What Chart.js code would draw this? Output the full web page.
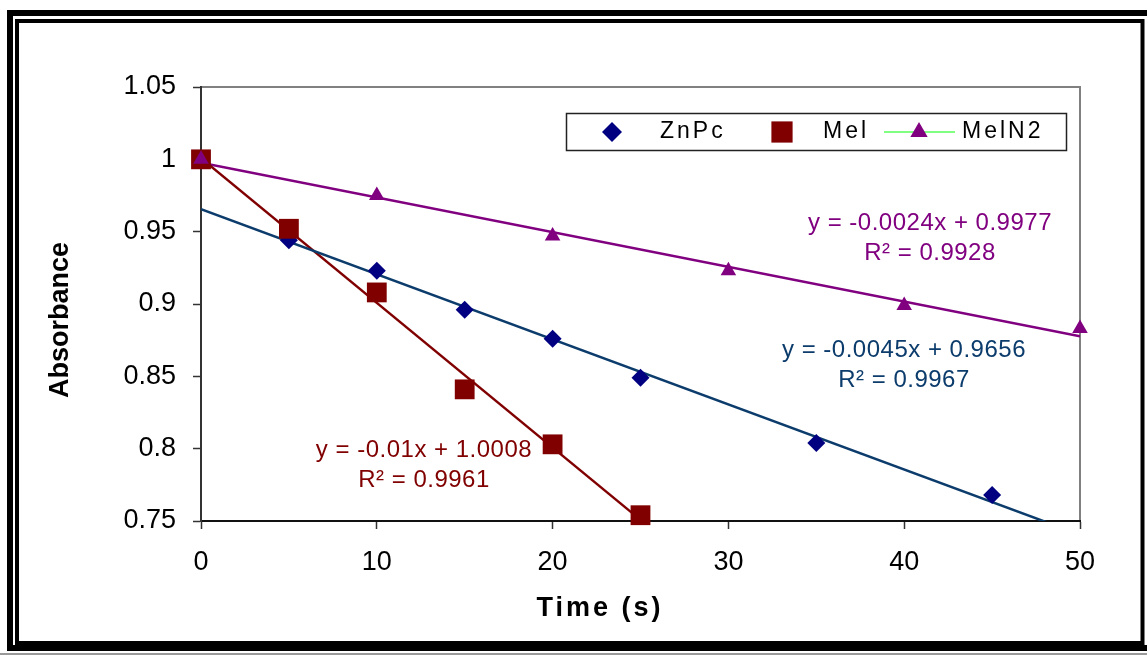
<!DOCTYPE html>
<html>
<head>
<meta charset="utf-8">
<title>Absorbance vs time</title>
<script src="https://cdn.jsdelivr.net/npm/chart.js@4.4.1/dist/chart.umd.min.js"></script>
<style>
  html, body { margin: 0; padding: 0; background: #fff; }
  canvas { display: block; }
</style>
</head>
<body>
<canvas id="absChart" width="1147" height="657"></canvas>
<script>
// measured absorbance at each time (s)
const znpcTime = [5, 10, 15, 20, 25, 35, 45];
const znpcAbs = [0.944, 0.923, 0.896, 0.876, 0.849, 0.804, 0.768];
const melTime = [0, 5, 10, 15, 20, 25];
const melAbs = [1.0, 0.952, 0.908, 0.841, 0.803, 0.754];
const melN2Time = [0, 10, 20, 30, 40, 50];
const melN2Abs = [1.0, 0.975, 0.947, 0.923, 0.899, 0.883];

// linear fits: slope, intercept, R^2 and the time span of each fit line
const seriesNames = ['ZnPc', 'Mel', 'MelN2'];
const fitSlope = [-0.0045, -0.01, -0.0024];
const fitIntercept = [0.9656, 1.0008, 0.9977];
const fitR2 = [0.9967, 0.9961, 0.9928];
const fitSpan = [[0, 50], [0, 25], [0, 50]];

const xTicks = [0, 10, 20, 30, 40, 50];
const yTicks = [0.75, 0.8, 0.85, 0.9, 0.95, 1, 1.05];

const FONT = '"Liberation Sans", Arial, sans-serif';
const markerColor = ['#000080', '#800000', '#800080'];
const lineColor = ['#0c3c6c', '#800000', '#800080'];
const markerStyle = ['rectRot', 'rect', 'triangle'];
const markerRadius = [9, 14, 9];

function points(xs, ys) {
  return xs.map((x, i) => ({ x: x, y: ys[i] }));
}

function fitLine(i) {
  return fitSpan[i].map(x => ({ x: x, y: fitIntercept[i] + fitSlope[i] * x }));
}

const measured = [points(znpcTime, znpcAbs), points(melTime, melAbs), points(melN2Time, melN2Abs)];

const datasets = [];
// markers on top: MelN2 over Mel over ZnPc
[2, 1, 0].forEach((i, k) => {
  datasets.push({
    label: seriesNames[i],
    data: measured[i],
    showLine: false,
    pointStyle: markerStyle[i],
    pointRadius: markerRadius[i],
    pointHoverRadius: markerRadius[i],
    pointBackgroundColor: markerColor[i],
    pointBorderColor: markerColor[i],
    pointBorderWidth: 0,
    clip: false,
    order: k + 1
  });
});
[0, 1, 2].forEach(i => {
  datasets.push({
    label: seriesNames[i] + ' fit',
    data: fitLine(i),
    showLine: true,
    pointRadius: 0,
    borderColor: lineColor[i],
    borderWidth: 2.5,
    clip: 0,
    order: 10 + i
  });
});

// white page, plot frame and the double border round the figure
const framePlugin = {
  id: 'frame',
  beforeDraw(chart) {
    const ctx = chart.ctx;
    const a = chart.chartArea;
    ctx.save();
    ctx.fillStyle = '#fff';
    ctx.fillRect(0, 0, chart.width, chart.height);

    ctx.strokeStyle = '#000';
    ctx.lineWidth = 6;
    ctx.strokeRect(10, 13, 1142, 635);
    ctx.lineWidth = 4;
    ctx.strokeRect(17, 21, 1125.5, 622);
    ctx.strokeStyle = '#9a9a9a';
    ctx.lineWidth = 2;
    ctx.beginPath();
    ctx.moveTo(0, 654);
    ctx.lineTo(chart.width, 654);
    ctx.stroke();

    ctx.strokeStyle = '#808080';
    ctx.lineWidth = 2;
    ctx.strokeRect(a.left, a.top, a.right - a.left, a.bottom - a.top);
    ctx.restore();
  }
};

function drawMarker(ctx, style, x, y, r, color) {
  ctx.fillStyle = color;
  ctx.beginPath();
  if (style === 'rectRot') {
    ctx.moveTo(x, y - r);
    ctx.lineTo(x + r, y);
    ctx.lineTo(x, y + r);
    ctx.lineTo(x - r, y);
  } else if (style === 'rect') {
    const s = r * Math.SQRT1_2;
    ctx.rect(x - s, y - s, 2 * s, 2 * s);
  } else {
    const h = r * 1.5;
    ctx.moveTo(x, y - r);
    ctx.lineTo(x + r * 0.866, y + h - r);
    ctx.lineTo(x - r * 0.866, y + h - r);
  }
  ctx.closePath();
  ctx.fill();
}

// legend, fit equations and axis titles
const labelPlugin = {
  id: 'labels',
  afterDraw(chart) {
    const ctx = chart.ctx;
    ctx.save();

    // legend box
    ctx.fillStyle = '#fff';
    ctx.fillRect(566, 113, 501, 38);
    ctx.strokeStyle = '#222';
    ctx.lineWidth = 1.5;
    ctx.strokeRect(566.5, 113.5, 500, 37);

    ctx.font = '23px ' + FONT;
    ctx.letterSpacing = '3px';
    ctx.textBaseline = 'middle';
    ctx.textAlign = 'left';
    const ly = 132;
    drawMarker(ctx, markerStyle[0], 612, ly, 10, markerColor[0]);
    ctx.fillStyle = '#000';
    ctx.fillText(seriesNames[0], 660, ly);
    drawMarker(ctx, markerStyle[1], 782, ly, 15, markerColor[1]);
    ctx.fillStyle = '#000';
    ctx.fillText(seriesNames[1], 823, ly);
    ctx.strokeStyle = '#80ff80';
    ctx.lineWidth = 2;
    ctx.beginPath();
    ctx.moveTo(884, ly);
    ctx.lineTo(955, ly);
    ctx.stroke();
    drawMarker(ctx, markerStyle[2], 919, ly, 10, markerColor[2]);
    ctx.fillStyle = '#000';
    ctx.fillText(seriesNames[2], 962, ly);

    // fit equations
    const eqPos = [[904, 350], [424, 450], [930, 223]];
    ctx.font = '24px ' + FONT;
    ctx.letterSpacing = '0.5px';
    ctx.textAlign = 'center';
    fitSlope.forEach((m, i) => {
      const [cx, cy] = eqPos[i];
      ctx.fillStyle = lineColor[i];
      ctx.fillText('y = ' + m + 'x + ' + fitIntercept[i].toFixed(4), cx, cy);
      ctx.fillText('R\u00B2 = ' + fitR2[i].toFixed(4), cx, cy + 30);
    });

    // axis titles
    ctx.fillStyle = '#000';
    ctx.font = 'bold 27px ' + FONT;
    ctx.letterSpacing = '3px';
    ctx.fillText('Time (s)', 600, 609);
    ctx.letterSpacing = '0px';
    ctx.translate(61, 320);
    ctx.rotate(-Math.PI / 2);
    ctx.fillText('Absorbance', 0, 0);
    ctx.restore();
  }
};

new Chart(document.getElementById('absChart'), {
  type: 'scatter',
  data: { datasets: datasets },
  options: {
    responsive: false,
    animation: false,
    events: [],
    layout: { padding: { left: 0, right: 67, top: 87, bottom: 0 } },
    plugins: {
      legend: { display: false },
      tooltip: { enabled: false }
    },
    scales: {
      x: {
        type: 'linear',
        min: 0,
        max: 50,
        afterBuildTicks: s => { s.ticks = xTicks.map(v => ({ value: v })); },
        afterFit: s => { s.height = 136; },
        grid: { drawOnChartArea: false, drawTicks: true, tickLength: 8, tickColor: '#333', tickWidth: 1.5 },
        border: { display: true, color: '#111', width: 2 },
        ticks: { color: '#000', font: { family: FONT, size: 27 }, padding: 17, maxRotation: 0, autoSkip: false }
      },
      y: {
        type: 'linear',
        min: 0.75,
        max: 1.05,
        afterBuildTicks: s => { s.ticks = yTicks.map(v => ({ value: v })); },
        afterFit: s => { s.width = 201; },
        grid: { drawOnChartArea: false, drawTicks: true, tickLength: 8, tickColor: '#333', tickWidth: 1.5 },
        border: { display: true, color: '#333', width: 2 },
        ticks: { color: '#000', font: { family: FONT, size: 27 }, padding: 17, callback: v => String(v) }
      }
    }
  },
  plugins: [framePlugin, labelPlugin]
});
</script>
</body>
</html>
